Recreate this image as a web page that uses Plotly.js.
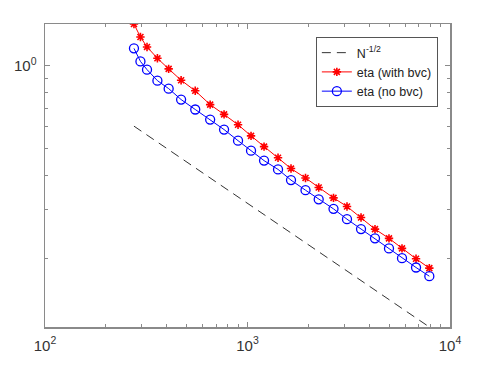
<!DOCTYPE html>
<html>
<head>
<meta charset="utf-8">
<script src="https://cdn.plot.ly/plotly-3.0.1.min.js"></script>
<style>
  html, body { margin: 0; padding: 0; background: #fff; }
  #plot { width: 498px; height: 380px; }
</style>
</head>
<body>
<div id="plot"></div>
<script>
// problem sizes N
const sizeN = [275, 296, 319, 359, 408, 470, 552, 654, 766, 898, 1041, 1207,
               1415, 1640, 1934, 2247, 2659, 3100, 3636, 4262, 4997, 5794, 6796, 7905];

// eta with boundary value correction
const etaWithBvc = [1.416, 1.270, 1.169, 1.063, 0.973, 0.885, 0.810, 0.722, 0.665, 0.610, 0.556, 0.508,
                    0.463, 0.423, 0.391, 0.361, 0.331, 0.308, 0.281, 0.255, 0.236, 0.217, 0.199, 0.184];

// eta without boundary value correction
const etaNoBvc = [1.155, 1.036, 0.967, 0.882, 0.825, 0.753, 0.693, 0.637, 0.586, 0.534, 0.491, 0.452,
                  0.420, 0.384, 0.353, 0.327, 0.302, 0.277, 0.255, 0.236, 0.217, 0.200, 0.185, 0.172];

// reference slope line N^-1/2 (end points)
const refN = [275, 7905];
const refVal = [0.603, 0.1125];

const xTickVals = [100, 1000, 10000];
const xTickText = ["10<sup>2</sup>", "10<sup>3</sup>", "10<sup>4</sup>"];
const xMinor = [200, 300, 400, 500, 600, 700, 800, 900, 2000, 3000, 4000, 5000, 6000, 7000, 8000, 9000];
const yTickVals = [1];
const yTickText = ["10<sup>0</sup>"];
const yMinor = [0.2, 0.3, 0.4, 0.5, 0.6, 0.7, 0.8, 0.9];

const axisColor = "#8a8a8a";
const tickFont = { family: "Liberation Sans, Arial, sans-serif", size: 15, color: "#333" };

const traces = [
    {
        x: refN, y: refVal,
        mode: "lines",
        name: "N<sup>-1/2</sup>",
        line: { color: "#333", width: 1, dash: "9px,6px" }
    },
    {
        x: sizeN, y: etaWithBvc,
        mode: "lines+markers",
        name: "eta (with bvc)",
        line: { color: "#ff0000", width: 1 },
        marker: { symbol: "asterisk-open", size: 7, color: "#ff0000", line: { color: "#ff0000", width: 1.6 } }
    },
    {
        x: sizeN, y: etaNoBvc,
        mode: "lines+markers",
        name: "eta (no bvc)",
        line: { color: "#0000ff", width: 1 },
        marker: { symbol: "circle-open", size: 9, color: "#0000ff", line: { color: "#0000ff", width: 1.3 } }
    }
];

function logAxis(range, tickvals, ticktext, minorVals) {
    return {
        type: "log",
        range: range,
        tickmode: "array",
        tickvals: tickvals,
        ticktext: ticktext,
        ticks: "inside",
        ticklen: 5,
        tickwidth: 1,
        tickcolor: axisColor,
        ticklabelstandoff: 4,
        minor: { tickvals: minorVals, ticks: "inside", ticklen: 3, tickcolor: axisColor, showgrid: false },
        showline: true,
        linecolor: axisColor,
        linewidth: 1.5,
        mirror: "ticks",
        showgrid: false,
        zeroline: false,
        tickfont: tickFont
    };
}

const layout = {
    width: 498,
    height: 380,
    margin: { l: 45, r: 48, t: 24, b: 53 },
    paper_bgcolor: "#fff",
    plot_bgcolor: "#fff",
    font: tickFont,
    showlegend: true,
    xaxis: logAxis([2, 4], xTickVals, xTickText, xMinor),
    yaxis: logAxis([Math.log10(0.1125), Math.log10(1.416)], yTickVals, yTickText, yMinor),
    legend: {
        x: 0.97, y: 0.957,
        xanchor: "right", yanchor: "top",
        bgcolor: "#fff",
        bordercolor: "#555",
        borderwidth: 1,
        font: { family: "Liberation Sans, Arial, sans-serif", size: 12.5, color: "#222" },
        tracegroupgap: 0
    }
};

Plotly.newPlot("plot", traces, layout, { staticPlot: true });
</script>
</body>
</html>
